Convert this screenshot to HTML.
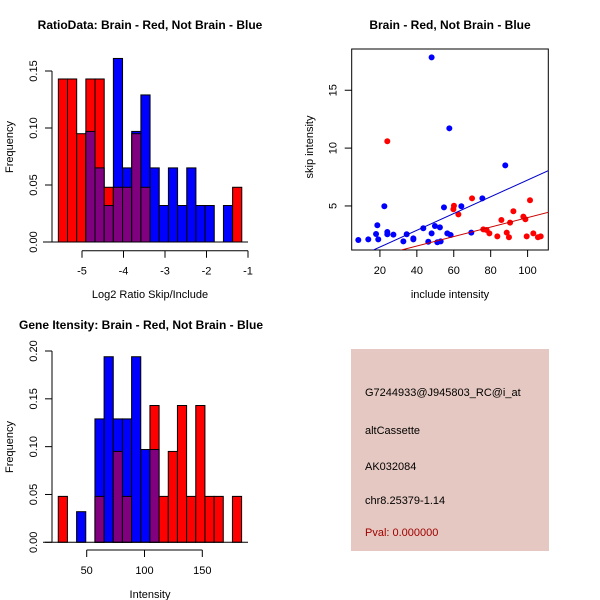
<!DOCTYPE html>
<html><head><meta charset="utf-8"><style>
html,body{margin:0;padding:0;background:#fff;}
svg{display:block;font-family:"Liberation Sans",sans-serif;}
</style></head><body>
<svg id="s" width="600" height="600" viewBox="0 0 600 600" xmlns="http://www.w3.org/2000/svg">
<text x="150" y="29" text-anchor="middle" font-size="12" font-weight="bold">RatioData: Brain - Red, Not Brain - Blue</text>
<text x="450" y="29" text-anchor="middle" font-size="12" font-weight="bold">Brain - Red, Not Brain - Blue</text>
<text x="141" y="329" text-anchor="middle" font-size="12" font-weight="bold">Gene Itensity: Brain - Red, Not Brain - Blue</text>
<g id="p1"></g>
<g id="p2"></g>
<g id="p3"></g>
<g>
<rect x="351" y="349" width="198" height="202" fill="#e5c8c1"/>
<text x="365" y="396" font-size="11">G7244933@J945803_RC@i_at</text>
<text x="365" y="434" font-size="11">altCassette</text>
<text x="365" y="470" font-size="11">AK032084</text>
<text x="365" y="504" font-size="11">chr8.25379-1.14</text>
<text x="365" y="536" font-size="11" fill="#a00000">Pval: 0.000000</text>
</g>
</svg>
<script>
// Ratio histogram data
const ratioBinStart = -5.57;
const ratioBinWidth = 0.221;
const ratioRed = [0.143,0.143,0.095,0.143,0.143,0.048,0.048,0.048,0.095,0.048,0,0,0,0,0,0,0,0,0,0.048];
const ratioBlue = [0,0,0,0.097,0.065,0.032,0.161,0.065,0.097,0.129,0.065,0.032,0.065,0.032,0.065,0.032,0.032,0,0.032,0];
const ratioXTicks = [-5,-4,-3,-2,-1];
const ratioYTicks = [0,0.05,0.10,0.15];
const ratioYLabels = ["0.00","0.05","0.10","0.15"];
// Intensity histogram data
const intBinStart = 25.4;
const intBinWidth = 7.93;
const intRed = [0.048,0,0,0,0.048,0,0.095,0.048,0,0,0.143,0.048,0.095,0.143,0.048,0.143,0.048,0.048,0,0.048];
const intBlue = [0,0,0.032,0,0.129,0.194,0.129,0.129,0.194,0.097,0.097,0,0,0,0,0,0,0,0,0];
const intXTicks = [50,100,150];
const intYTicks = [0,0.05,0.10,0.15,0.20];
const intYLabels = ["0.00","0.05","0.10","0.15","0.20"];
// Scatter data
const blueX = [8.3,13.7,17.9,18.6,19.1,22.4,24.0,24.0,27.3,32.7,34.5,38.1,38.1,43.5,46.2,48.0,48.0,49.8,51.1,52.5,52.9,54.7,56.5,57.6,58.3,64.1,69.5,75.5,87.9];
const blueY = [2.06,2.11,2.58,3.33,2.11,4.97,2.75,2.55,2.52,1.94,2.55,2.2,2.11,3.07,1.91,2.63,17.84,3.27,1.86,3.15,1.94,4.88,2.63,11.71,2.49,4.97,2.69,5.66,8.51];
const redX = [24.0,59.8,60.1,62.5,69.9,76.0,77.8,79.3,83.6,85.8,88.7,89.9,90.5,92.3,97.7,98.8,99.5,101.3,103.1,105.6,107.1];
const redY = [10.59,4.71,5.02,4.27,5.66,2.98,2.92,2.63,2.37,3.79,2.69,2.29,3.56,4.54,4.08,3.85,2.37,5.49,2.63,2.29,2.37];
const blueFit = [0.0, 0.0724];
const redFit = [-0.10, 0.0409];
const scatXTicks = [20,40,60,80,100];
const scatYTicks = [5,10,15];

const NS="http://www.w3.org/2000/svg";
function mk(parent,tag,attrs){const e=document.createElementNS(NS,tag);for(const k in attrs)e.setAttribute(k,attrs[k]);parent.appendChild(e);return e;}

function hist(g,binStart,binW,red,blue,xMap,yMap,name){
  for(let i=0;i<red.length;i++){
    const x0=xMap(binStart+i*binW),x1=xMap(binStart+(i+1)*binW);
    const r=red[i],b=blue[i];
    const hi=Math.max(r,b),lo=Math.min(r,b);
    if(hi>0){
      const e=mk(g,'rect',{x:x0,y:yMap(hi),width:x1-x0,height:yMap(0)-yMap(hi),fill:r>=b?'#ff0000':'#0000ff',stroke:'#000','stroke-width':1});
      
      
    }
    if(lo>0){
      const e=mk(g,'rect',{x:x0,y:yMap(lo),width:x1-x0,height:yMap(0)-yMap(lo),fill:'#800080',stroke:'#000','stroke-width':1});
      
      
    }
  }
  mk(g,'line',{x1:43,x2:248,y1:yMap(0),y2:yMap(0),stroke:'#000'});
}
function xaxis(g,ticks,labels,xMap,y,x0,x1,name){
  const ax=mk(g,'g',{});
  
  
  mk(ax,'line',{x1:x0,x2:x1,y1:y,y2:y,stroke:'#000'});
  ticks.forEach((t,i)=>{const x=xMap(t);mk(ax,'line',{x1:x,x2:x,y1:y,y2:y+7,stroke:'#000'});
    const tx=mk(ax,'text',{x:x,y:y+24,'text-anchor':'middle','font-size':11});tx.textContent=labels[i];});
}
function yaxis(g,ticks,labels,yMap,x,y0,y1,name){
  const ax=mk(g,'g',{});
  
  
  mk(ax,'line',{x1:x,x2:x,y1:y0,y2:y1,stroke:'#000'});
  ticks.forEach((t,i)=>{const y=yMap(t);mk(ax,'line',{x1:x,x2:x-7,y1:y,y2:y,stroke:'#000'});
    const tx=mk(ax,'text',{x:x-15,y:y,'text-anchor':'middle','font-size':11,transform:`rotate(-90 ${x-15} ${y})`});tx.textContent=labels[i];});
}
function label(g,txt,x,y,rot,name){
  const t=mk(g,'text',{x:x,y:y,'text-anchor':'middle','font-size':11});
  if(rot)t.setAttribute('transform',`rotate(-90 ${x} ${y})`);
  t.textContent=txt;
  
  
}

// Panel 1
{
  const g=document.getElementById('p1');
  const xMap=v=>82+(v+5)*41.5;
  const yMap=v=>242-v*1140;
  hist(g,ratioBinStart,ratioBinWidth,ratioRed,ratioBlue,xMap,yMap,'ratio');
  xaxis(g,ratioXTicks,ratioXTicks.map(String),xMap,250.7,xMap(-5),xMap(-1),'ratio-x-axis');
  yaxis(g,ratioYTicks,ratioYLabels,yMap,52,yMap(0),yMap(0.15),'ratio-y-axis');
  label(g,'Log2 Ratio Skip/Include',150,298,false,'ratio-x-axis-title');
  label(g,'Frequency',13,147,true,'ratio-y-axis-title');
}
// Panel 3
{
  const g=document.getElementById('p3');
  const xMap=v=>86.7+(v-50)*1.156;
  const yMap=v=>542.3-v*956.5;
  hist(g,intBinStart,intBinWidth,intRed,intBlue,xMap,yMap,'intensity');
  xaxis(g,intXTicks,intXTicks.map(String),xMap,550,xMap(50),xMap(150),'intensity-x-axis');
  yaxis(g,intYTicks,intYLabels,yMap,52,yMap(0),yMap(0.2),'intensity-y-axis');
  label(g,'Intensity',150,598,false,'intensity-x-axis-title');
  label(g,'Frequency',13,447,true,'intensity-y-axis-title');
}
// Panel 2
{
  const g=document.getElementById('p2');
  const xMap=v=>343+v*1.846;
  const yMap=v=>263.8-v*11.57;
  const L=351.7,R=548.3,T=49,B=250;
  const defs=mk(g,'defs',{});
  const cp=mk(defs,'clipPath',{id:'clip2'});
  mk(cp,'rect',{x:L,y:T,width:R-L,height:B-T});
  const frame=mk(g,'rect',{x:L,y:T,width:R-L,height:B-T,fill:'none',stroke:'#000'});
  
  
  const pts=mk(g,'g',{'clip-path':'url(#clip2)'});
  blueX.forEach((x,i)=>{const c=mk(pts,'circle',{cx:xMap(x),cy:yMap(blueY[i]),r:3,fill:'#0000ff'});
    
    });
  redX.forEach((x,i)=>{const c=mk(pts,'circle',{cx:xMap(x),cy:yMap(redY[i]),r:3,fill:'#ff0000'});
    
    });
  const xa=0,xb=120;
  const bl=mk(pts,'line',{x1:xMap(xa),y1:yMap(blueFit[0]+blueFit[1]*xa),x2:xMap(xb),y2:yMap(blueFit[0]+blueFit[1]*xb),stroke:'#0000cc'});
  
  
  const rl=mk(pts,'line',{x1:xMap(xa),y1:yMap(redFit[0]+redFit[1]*xa),x2:xMap(xb),y2:yMap(redFit[0]+redFit[1]*xb),stroke:'#cc0000'});
  
  
  const xa2=mk(g,'g',{});
  
  
  scatXTicks.forEach(t=>{const x=xMap(t);mk(xa2,'line',{x1:x,x2:x,y1:B,y2:B+7,stroke:'#000'});
    const tx=mk(xa2,'text',{x:x,y:B+24,'text-anchor':'middle','font-size':11});tx.textContent=String(t);});
  const ya2=mk(g,'g',{});
  
  
  scatYTicks.forEach(t=>{const y=yMap(t);mk(ya2,'line',{x1:L,x2:L-7,y1:y,y2:y,stroke:'#000'});
    const tx=mk(ya2,'text',{x:L-15,y:y,'text-anchor':'middle','font-size':11,transform:`rotate(-90 ${L-15} ${y})`});tx.textContent=String(t);});
  label(g,'include intensity',450,298,false,'scatter-x-axis-title');
  label(g,'skip intensity',313,147,true,'scatter-y-axis-title');
}
</script>
</body></html>
